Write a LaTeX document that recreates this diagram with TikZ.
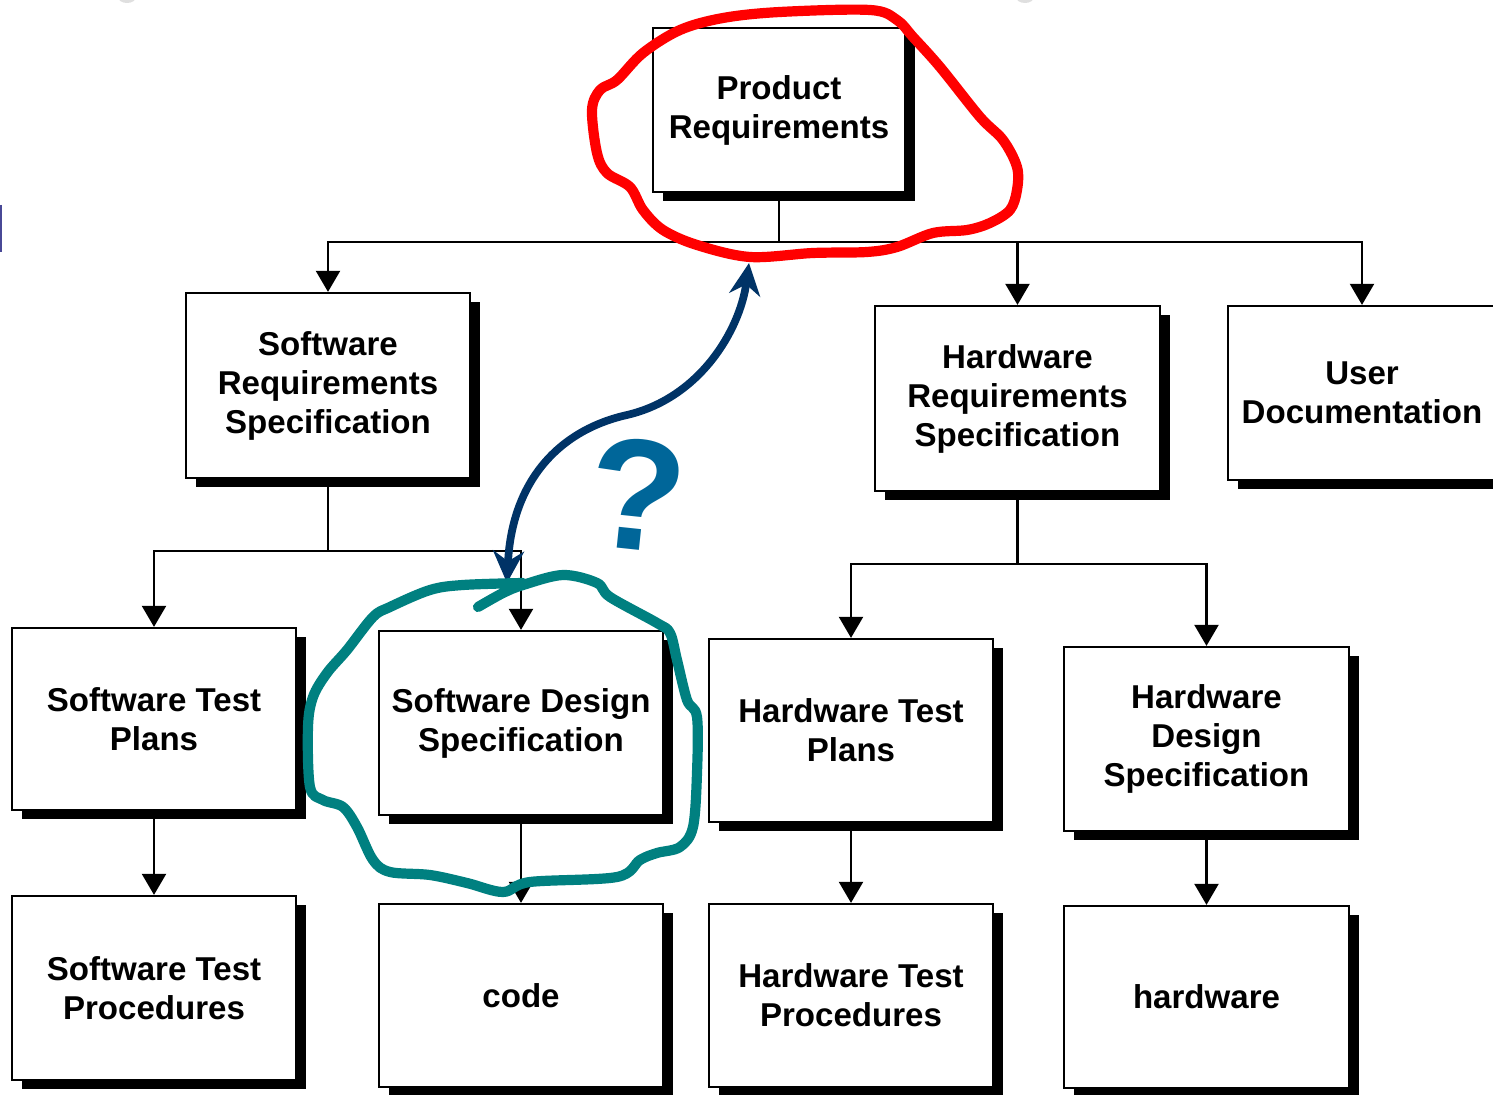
\documentclass[tikz,border=0pt]{standalone}
\usepackage{fontspec}
\setmainfont{Liberation Sans}
\usetikzlibrary{arrows.meta,shadows}
\definecolor{navy}{RGB}{0,51,102}
\definecolor{qblue}{RGB}{0,102,153}
\definecolor{loopteal}{RGB}{0,128,128}
\definecolor{loopred}{RGB}{255,0,0}
\definecolor{edgeblue}{RGB}{72,72,150}
\tikzset{
  doc/.style={draw, fill=white, line width=0.6pt, align=center, inner sep=0pt,
    minimum width=2.84cm, minimum height=1.84cm,
    font=\fontsize{9.4}{11.1}\selectfont\bfseries,
    drop shadow={shadow xshift=0.1cm, shadow yshift=-0.09cm, fill=black, opacity=1}},
  link/.style={line width=0.6pt, -{Triangle[width=0.24cm,length=0.21cm]}},
  ask/.style={navy, line width=2.2pt, {Stealth[length=0.32cm,width=0.31cm]}-{Stealth[length=0.32cm,width=0.31cm]}},
  qmark/.style={qblue, inner sep=0pt, rotate=-6, font=\fontsize{45}{45}\selectfont\bfseries},
  scribble/.style={line width=2.9pt, line cap=round, line join=round}
}

\begin{document}
\begin{tikzpicture}[x=0.01cm, y=-0.01cm]
\useasboundingbox (0,0) rectangle (1493,1095);
\fill[gray!25] (127,-3) ellipse [x radius=9, y radius=6];
\fill[gray!25] (1025,-3) ellipse [x radius=9, y radius=6];
\draw[edgeblue, line width=0.6pt] (0.5,205) -- (0.5,252);

\node[doc, minimum width=2.52cm, minimum height=1.64cm] (prod) at (779,110) {Product\\Requirements};
\node[doc, minimum height=1.85cm] (srs) at (328,385.5) {Software\\Requirements\\Specification};
\node[doc, minimum height=1.85cm] (hrs) at (1017.5,398.5) {Hardware\\Requirements\\Specification};
\node[doc, minimum width=2.68cm, minimum height=1.74cm] (udoc) at (1362,393) {User\\Documentation};
\node[doc, minimum height=1.82cm] (stp) at (154,719) {Software Test\\Plans};
\node[doc] (sds) at (521,723) {Software Design\\Specification};
\node[doc, minimum height=1.83cm] (htp) at (851,730.5) {Hardware Test\\Plans};
\node[doc] (hds) at (1206.5,739) {Hardware\\Design\\Specification};
\node[doc] (stpr) at (154,988) {Software Test\\Procedures};
\node[doc, minimum height=1.83cm] (code) at (521,995.5) {code};
\node[doc, minimum height=1.83cm] (htpr) at (851,995.5) {Hardware Test\\Procedures};
\node[doc, minimum height=1.82cm] (hw) at (1206.5,997) {hardware};

\draw[link] (prod.south) -- ++(0,49) -| (srs.north);
\draw[link] (prod.south) -- ++(0,49) -| (hrs.north);
\draw[link] (prod.south) -- ++(0,49) -| (udoc.north);
\draw[link] (srs.south) -- ++(0,72) -| (stp.north);
\draw[link] (srs.south) -- ++(0,72) -| (sds.north);
\draw[link] (hrs.south) -- ++(0,72) -| (htp.north);
\draw[link] (hrs.south) -- ++(0,72) -| (hds.north);
\draw[link] (stp.south) -- (stpr.north);
\draw[link] (sds.south) -- (code.north);
\draw[link] (htp.south) -- (htpr.north);
\draw[link] (hds.south) -- (hw.north);

\coordinate (lowend) at (507,583);
\coordinate (topend) at (749,263);
\draw[ask] (lowend) .. controls (512,480) and (560,430) .. (627,415)
  .. controls (700,398) and (740,330) .. (topend);
\node[qmark] (what) at (637,495) {?};

\draw[scribble, loopred] plot[smooth cycle, tension=0.55] coordinates {
  (750,257) (697,245) (663,230) (643,210) (630,187) (607,173) (597,153)
  (592,110) (600,90) (617,80) (643,53) (680,30) (723,18) (780,12)
  (870,10) (897,20) (913,37) (940,67) (980,117) (1003,140) (1017,167)
  (1017,190) (1010,210) (990,223) (967,230) (933,233) (897,247)
  (867,252) (813,253)};
\draw[scribble, loopteal] plot[smooth, tension=0.55] coordinates {
  (478,607) (503,593) (523,585) (563,575) (597,583) (610,597) (657,623)
  (670,633) (677,660) (687,700) (697,717) (697,773) (693,827) (680,847)
  (657,853) (640,860) (617,877) (530,882) (503,892) (467,883) (430,875)
  (390,872) (373,860) (357,827) (343,807) (323,800) (310,787) (308,727)
  (313,697) (327,673) (347,650) (373,617) (390,607) (430,590) (463,585)
  (523,583)};
\end{tikzpicture}
\end{document}
